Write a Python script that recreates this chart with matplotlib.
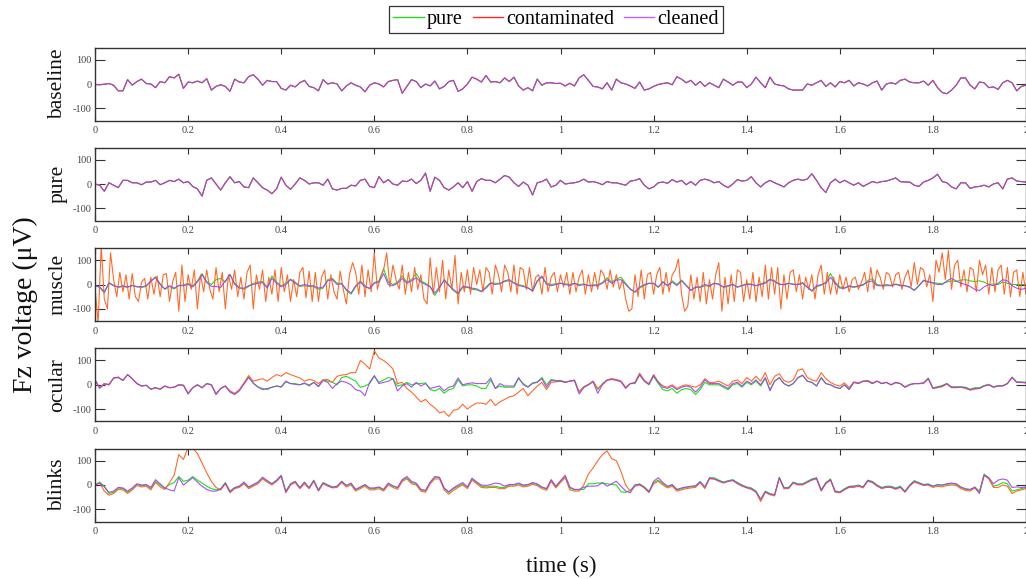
import numpy as np
import matplotlib
matplotlib.use('Agg')
import matplotlib.pyplot as plt
from matplotlib.lines import Line2D

plt.rcParams['font.family'] = ['Liberation Serif', 'DejaVu Serif']
plt.rcParams['axes.unicode_minus'] = False

panel_names = ['baseline', 'pure', 'muscle', 'ocular', 'blinks']
series_names = ['pure', 'contaminated', 'cleaned']
x_tick_values = [0, 0.2, 0.4, 0.6, 0.8, 1.0, 1.2, 1.4, 1.6, 1.8, 2.0]
x_tick_labels = ['0', '0.2', '0.4', '0.6', '0.8', '1', '1.2', '1.4', '1.6', '1.8', '2']
y_tick_values = [-100, 0, 100]
y_tick_labels = ['-100', '0', '100']

baseline_signal = [
    -2, -3, -1, 2, -5, -28, -28, 18, -5, 10,
    20, 2, 0, -15, 10, 5, 30, 25, 40, -18,
    8, 5, 12, 5, 22, -25, -10, -3, -10, -30,
    20, 8, 5, 30, 38, 20, -5, 15, 10, 10,
    -18, -25, -5, -12, 5, 15, -10, -15, -28, 18,
    0, 5, 0, -28, -8, 5, -5, -12, -32, -5,
    5, 0, -12, 10, 15, 18, -38, -10, 18, 10,
    -15, 0, -8, 12, -20, -10, 10, 15, -30, -20,
    0, 28, 20, 8, 35, 8, 10, 5, 25, 10,
    28, -8, -25, -15, -28, 20, -5, 5, 5, 2,
    3, -8, 3, -8, 25, 38, 15, -10, -12, -20,
    5, -25, 20, 5, 0, -8, -18, 8, -25, -20,
    -10, -2, 2, 5, -3, 30, 20, 5, 15, -5,
    10, -10, 5, -5, -15, 20, 8, -5, 8, 8,
    -15, 0, 28, 5, -15, 28, 0, -5, -8, -20,
    -25, -25, -25, 0, -5, 5, 15, -10, 5, -12,
    10, 5, 15, -8, 5, 0, -8, 5, 12, -25,
    0, 5, 0, 15, 20, 8, 5, 5, 12, -5,
    15, -15, -35, -40, -25, -5, 25, 25, -5, -20,
    8, 5, -15, -12, -22, 5, 15, 5, -28, -10,
    -5]

pure_signal = [
    0, -5, -30, 5, -5, -15, 15, 15, 5, 5,
    -3, 8, 8, 15, -3, 5, 15, 10, 20, 5,
    10, -10, -20, -50, 15, 25, 0, -25, 5, 30,
    5, 10, -12, -15, 25, 5, -15, -25, -40, -20,
    28, -5, -22, 0, 25, 15, 0, 5, 5, -5,
    20, -20, -25, -18, -18, -5, -8, 15, 20, -10,
    -15, 30, 5, 18, 0, -5, 12, 10, 20, 2,
    15, 45, -30, 28, 15, -15, -25, -12, 5, -15,
    10, -30, 10, 22, 15, 15, 5, 20, 35, 28,
    5, -10, 8, -5, -45, 5, 10, 20, -12, -5,
    15, 0, 3, 5, 10, 20, 8, 10, 5, -3,
    10, 5, 5, 0, -5, 12, 15, 22, -5, -20,
    -12, 5, 8, 3, 18, 8, 15, -3, 10, -5,
    15, 20, 15, 5, 10, -5, -15, 0, 18, 12,
    15, 30, 5, -12, 5, 15, 5, -3, -12, 5,
    15, 20, 15, 20, 42, 15, -15, -35, 5, 20,
    5, 15, 5, -5, 5, -10, 0, 10, 5, 10,
    12, 18, 25, 10, 8, 8, -5, -10, 8, 15,
    25, 40, 10, 5, -12, -20, 5, 5, -18, -12,
    -10, -5, -12, 0, 5, -20, 20, 25, 12, 10,
    8]

muscle_pure = [
    -5, -12, -35, 8, -3, -12, -8, -12, -3, -10,
    -12, -8, 12, 32, 3, -20, -8, -18, -3, -2,
    5, -5, 15, 45, 12, 0, 20, 25, 10, 42,
    5, -12, -20, -8, 5, 10, 12, -10, 35, 10,
    -5, 5, 22, 10, -8, -5, -8, -10, -20, -15,
    20, 25, 5, 5, -25, -40, -10, 15, -5, -18,
    8, 15, 65, 10, 0, 10, 35, 10, 20, 45,
    15, 5, -8, -45, -15, 20, 0, -25, -40, -12,
    -12, -20, -22, -30, -10, 8, 5, 5, 12, 15,
    8, 0, -5, -12, -28, 12, 30, 5, 0, 3,
    5, 3, 0, 5, 0, 2, -3, -2, 0, 8,
    28, 10, 22, 30, 5, -18, -32, -15, -5, 5,
    3, -12, 12, -5, 15, 0, 18, -2, -22, -12,
    -12, -5, -8, 5, 3, -12, -8, 2, -12, -3,
    3, 2, -5, 3, 10, 22, 15, 3, -2, 5,
    2, 0, 8, -12, -28, -10, -3, 10, 45, 10,
    -10, -15, -8, -12, -8, -3, 15, 25, 0, -3,
    0, -3, 2, -2, -5, -12, -22, -5, 15, 10,
    8, 5, 3, 10, 15, 12, 18, 20, 15, 12,
    15, 10, 0, 2, 0, 10, 5, 0, 0, 0,
    0]

muscle_contaminated = [
    -10, -160, 160, -60, -100, 130, 20, -50, 50, -30,
    40, -60, 45, -50, -70, 10, 25, -60, 30, -40,
    35, -50, 40, 45, -70, 10, 50, -110, 80, -70,
    40, -20, 60, -100, 40, -30, 60, -20, -60, 70,
    -30, 50, -100, 40, -20, 60, -50, 30, -60, 50,
    80, -100, 40, -20, 60, -70, 30, -40, 60, -70,
    70, -30, 40, -70, 20, -50, 50, 70, -55, 55,
    -70, 50, -70, 30, 60, -60, 40, -30, -60, 55,
    -20, -80, 40, 90, 50, -40, 80, -50, 60, -30,
    130, -20, 30, 60, 130, -10, 80, 20, -20, 80,
    -40, 50, -30, 70, -20, 40, -60, -80, 110, -40,
    70, -30, 100, -60, 60, -20, 120, -80, 50, -30,
    60, -40, 70, 0, 60, -30, 70, 50, -40, 80,
    40, -30, 80, 50, -30, 80, -40, 70, 60, -20,
    70, -30, 30, 40, -40, 70, -30, 30, 50, -30,
    40, -10, 50, -40, 50, -30, 30, 60, -40, 40,
    -30, 50, -20, 60, 40, -20, 60, -10, 40, -20,
    20, -60, -110, -100, 40, -50, 60, -60, 40, 50,
    -40, 40, 70, -40, 50, -30, 40, 60, 105, -40,
    -110, -90, 40, -60, 30, -70, 50, -80, 20, -60,
    40, 90, -110, 30, -80, 40, -70, 60, 50, -70,
    20, -60, 50, -70, 30, -50, 80, -60, 70, -40,
    70, -100, 40, -60, 50, 60, -30, 40, -60, 30,
    -20, 40, -60, 40, 80, -40, 50, -40, 30, -40,
    40, -20, 30, -30, 20, 30, -20, 10, 50, -30,
    70, -20, 60, 30, -20, 50, 40, -10, 40, 50,
    -20, 30, 60, -10, 90, 0, 70, 60, -10, 40,
    -70, 100, 50, 130, 20, 140, -20, 80, 100, -10,
    60, -30, 70, 60, -30, 100, 40, 80, -40, 70,
    -30, 60, 80, -40, 70, -50, 50, 60, -50, 50,
    -40]

muscle_cleaned = [
    -5, -10, -30, 5, -5, -10, -5, -10, -5, -8,
    -10, -5, 15, 28, 0, -18, -5, -15, -5, -5,
    0, -10, 10, 40, 8, -8, -8, -12, 15, 40,
    0, -15, -15, -5, 0, 5, 8, -15, 25, 5,
    -10, 0, 20, 5, -5, 0, -5, -5, -15, -10,
    15, 20, 0, 2, -20, -35, -5, 10, -10, -15,
    5, 10, 45, 0, -5, 5, 25, 5, 15, 28,
    10, 0, -10, -35, -10, 18, -5, -20, -35, -8,
    -10, -15, -18, -28, -15, 5, 0, 3, 15, 20,
    5, -5, -8, -15, -25, 15, 35, 0, -5, 0,
    5, 0, -5, 5, -5, 0, -5, -5, -5, 5,
    20, 5, 18, 20, 0, -20, -30, -10, 0, 5,
    5, -10, 10, -5, 10, -5, 15, -5, -25, -10,
    -10, 0, -5, 5, 0, -10, -5, 0, -10, -5,
    0, 0, -5, 0, 5, 20, 12, 0, 0, 5,
    0, 0, 5, -10, -25, -5, 0, 5, 30, 5,
    -15, -15, -5, -10, -5, 0, 10, 15, -5, -5,
    -5, -5, 0, -5, -5, -10, -25, -5, 18, 12,
    5, 0, 0, 15, 25, 15, 5, 0, -8, -20,
    -25, -10, 0, -5, 5, 20, 15, -5, -15, -20,
    -15]

ocular_pure = [
    20, -12, 5, 0, 28, 30, 18, 42, 25, 5,
    -5, -2, -18, -12, -18, -5, -12, -10, 0, -2,
    -35, -12, 0, -12, 5, 0, -38, -15, -5, -28,
    -38, -22, 5, 33, 5, -8, -15, -20, -10, -5,
    -10, 12, 5, 5, 0, 5, 0, 10, -5, 20,
    15, 10, 0, 30, 35, 25, 15, -10, -5, 5,
    35, 10, 20, 30, 25, -5, 0, 10, 0, 5,
    5, 8, -20, -25, -15, -35, -20, -15, 20, -5,
    0, 0, -5, -15, -15, 20, -15, -5, -10, -10,
    -10, 25, 5, -8, 8, 12, 30, 0, 22, 18,
    18, 12, 15, 20, -28, -8, 2, 15, -20, 5,
    20, 25, 20, 15, -12, 5, 5, 40, 15, 0,
    35, 5, -20, -25, -15, -35, -20, -15, -20, -40,
    -20, 10, 0, 0, 0, -10, -20, 0, 5, -10,
    10, 0, 15, -5, 25, -20, 15, 28, 5, -5,
    5, 28, 38, 15, 10, -5, 28, 5, 0, -10,
    -15, 0, -18, 10, 5, 15, 15, 5, 15, 5,
    10, 0, 10, 5, -8, 2, 5, 5, 8, 28,
    -12, -8, -3, 5, -8, -8, -8, -10, -18, -12,
    -12, -3, 2, -8, -3, -3, 5, 32, 12, 12,
    10]

ocular_contaminated = [
    20, -12, 5, 2, 28, 32, 18, 42, 25, 5,
    -5, -2, -18, -12, -18, -5, -12, -10, 0, -2,
    -35, -12, 0, -12, 5, 0, -38, -15, -5, -25,
    -35, -20, 8, 38, 15, 20, 25, 15, 30, 42,
    35, 50, 42, 35, 28, 15, 22, 18, 5, 20,
    22, 10, 35, 40, 42, 50, 50, 100, 85, 65,
    140, 110, 100, 85, 65, 5, 10, -15, -30, -50,
    -70, -60, -80, -95, -115, -110, -130, -105, -100, -80,
    -100, -85, -75, -75, -80, -60, -85, -70, -60, -50,
    -45, -30, -15, -45, -25, -5, 10, -20, 10, 12,
    15, 10, 15, 18, -30, -8, 0, 15, -15, 2,
    20, 25, 22, 15, -10, 5, 10, 48, 18, 5,
    42, 12, -5, -10, 0, -15, -5, 0, -5, -10,
    0, 25, 10, 10, 15, 5, -5, 15, 20, 5,
    30, 15, 35, 15, 50, 0, 35, 45, 18, 10,
    20, 60, 65, 30, 20, 15, 50, 25, 10, 0,
    -5, 8, -12, 12, 8, 15, 18, 8, 15, 5,
    10, 0, 8, 5, -10, 0, 5, 5, 5, 25,
    -15, -12, -8, 3, -12, -12, -10, -15, -22, -18,
    -15, -5, 0, -10, -5, -5, 5, 30, 10, 10,
    8]

ocular_cleaned = [
    20, -15, 3, 0, 28, 30, 18, 42, 25, 5,
    -5, -2, -18, -12, -18, -5, -12, -10, 0, -2,
    -38, -12, 0, -12, 5, 0, -40, -15, -5, -30,
    -40, -25, 3, 30, 8, -10, -20, -15, -10, -5,
    -8, 15, 5, 2, 0, 8, -5, 10, -8, 18,
    10, -15, 5, 15, 10, 0, -20, -25, -45, 10,
    38, 5, 10, 15, 25, -25, -5, 5, -10, 10,
    -5, 5, -15, -10, -5, -25, -10, -5, 28, 0,
    5, 8, 5, 5, 5, 28, -15, 5, -5, -5,
    -5, 30, 0, -10, 5, 10, 25, -10, 18, 15,
    15, 10, 15, 18, -38, -12, 0, 12, -35, 0,
    18, 22, 18, 12, -15, 5, 8, 42, 15, 2,
    38, 10, -10, -15, -5, -20, -10, -5, -10, -30,
    -10, 20, 5, 5, 5, -5, -15, 5, 10, -5,
    15, 5, 20, 0, 30, -25, 15, 30, 5, -5,
    5, 30, 40, 15, 10, -5, 30, 5, 0, -10,
    -15, 0, -20, 10, 5, 15, 15, 5, 15, 5,
    10, 0, 10, 5, -10, 0, 5, 5, 8, 25,
    -15, -10, -5, 5, -10, -10, -10, -12, -20, -15,
    -15, -5, 0, -10, -5, -5, 5, 30, 10, 10,
    8]

blinks_pure = [
    0, 12, -5, -35, -30, -12, -15, -30, -15, 2,
    -3, 0, -15, 15, 0, -15, 2, 10, 35, 15,
    20, 35, 20, 8, -5, -15, -20, -15, 10, -25,
    -10, -5, 10, -10, 0, 10, 30, 15, 5, 20,
    40, -25, 5, 15, -10, 10, -10, 20, -20, 10,
    0, -8, -5, 15, -2, 5, -20, -10, 0, -15,
    -15, -10, -20, 5, -5, -12, 20, 30, 10, 5,
    -20, -25, 10, 30, 30, -15, -30, -15, -5, 5,
    -10, 25, 10, -5, -8, -5, -5, -10, -10, 0,
    0, 5, -3, 0, 8, 2, -10, -15, 20, -8,
    15, 35, -12, -20, -20, -18, 5, 5, 8, 8,
    5, 2, 0, -28, -30, -22, 0, 5, -8, -25,
    10, 20, 5, -8, 0, -20, -15, -10, -8, -5,
    15, -10, 30, 30, 20, 12, 18, 22, 10, 0,
    -8, -12, -25, -60, -25, -35, -40, 32, -10, -10,
    12, 5, 5, 15, 25, 30, -20, 10, 25, -25,
    -28, -15, -5, -5, 0, -8, 20, 15, 0, -10,
    -5, -5, -12, -5, -25, 0, 18, 10, 2, 5,
    -5, 0, -2, 3, 5, 3, -10, -18, -20, -8,
    -25, 45, 30, -5, 0, 10, 5, -25, -20, -15,
    -10]

blinks_contaminated = [
    -2, 8, -25, -42, -35, -18, -20, -35, -20, -2,
    -8, -5, -20, 10, -8, -18, 10, 40, 125, 105,
    155, 150, 130, 90, 50, 15, -10, -20, 5, -32,
    -15, -10, 5, -15, -5, 5, 25, 12, 0, 15,
    35, -32, 0, 10, -15, 5, -15, 15, -25, 5,
    -5, -12, -10, 10, -8, 0, -25, -15, -5, -20,
    -20, -15, -25, 0, -10, -18, 15, 25, 5, 0,
    -25, -30, 5, 25, 25, -20, -38, -22, -10, 0,
    -15, 20, 5, -10, -12, -10, -10, -15, -15, -5,
    -5, 0, -8, -5, 3, -3, -15, -22, 15, -12,
    10, 30, -20, -25, -25, 0, 45, 70, 100, 125,
    140, 108, 100, 55, 0, -25, -5, 0, -12, -30,
    5, 15, 0, -12, -5, -25, -20, -15, -12, -10,
    10, -15, 25, 25, 15, 8, 15, 18, 5, -5,
    -12, -18, -30, -68, -30, -40, -45, 28, -15, -15,
    8, 0, 0, 10, 20, 25, -25, 5, 20, -30,
    -32, -20, -10, -10, -5, -12, 15, 10, -5, -15,
    -10, -10, -18, -10, -30, -5, 12, 5, -2, 0,
    -10, -5, -8, -2, 0, -2, -15, -22, -25, -12,
    -30, 40, 25, -10, -10, 0, -5, -35, -25, -20,
    -15]

blinks_cleaned = [
    0, 8, -8, -30, -25, -10, -12, -25, -12, 5,
    0, 2, -10, 22, 5, -12, -20, -25, 30, 0,
    15, 30, 12, -5, -18, -25, -25, -18, 8, -28,
    -12, -5, 12, -8, 2, 12, 32, 18, 5, 18,
    38, -28, 3, 15, -12, 12, -12, 18, -22, 8,
    0, -10, -5, 15, -2, 8, -18, -8, 2, -12,
    -12, -8, -18, 8, -3, -10, 22, 35, 15, 8,
    -18, -22, 12, 35, 32, -12, -28, -12, 0, 10,
    -8, 28, 12, 0, -2, 2, 8, 5, -5, 2,
    2, 8, 0, 2, 10, 5, -8, -15, 22, -5,
    18, 40, -8, -18, -18, -10, -5, -5, -3, 10,
    -5, 5, 15, -5, -25, -32, 0, 2, -10, -30,
    15, 30, 10, -5, 2, -18, -12, -8, -5, -3,
    12, -8, 28, 25, 18, 10, 15, 20, 8, -2,
    -10, -15, -28, -58, -28, -38, -40, 30, -12, -12,
    10, 3, 3, 12, 22, 28, -22, 8, 22, -25,
    -30, -18, -8, -5, -3, -8, 18, 12, -2, -12,
    -8, -8, -15, -8, -28, -2, 15, 8, 0, 2,
    -5, 2, 0, 5, 8, 5, -8, -15, -18, -10,
    -35, 40, 30, 5, 20, 25, 20, -10, -8, -10,
    -8]

panels = {
    'baseline': {'pure': baseline_signal, 'contaminated': baseline_signal, 'cleaned': baseline_signal},
    'pure': {'pure': pure_signal, 'contaminated': pure_signal, 'cleaned': pure_signal},
    'muscle': {'pure': muscle_pure, 'contaminated': muscle_contaminated, 'cleaned': muscle_cleaned},
    'ocular': {'pure': ocular_pure, 'contaminated': ocular_contaminated, 'cleaned': ocular_cleaned},
    'blinks': {'pure': blinks_pure, 'contaminated': blinks_contaminated, 'cleaned': blinks_cleaned},
}

# ---- styling
line_colors = {'pure': '#1fe01f', 'contaminated': '#ff6a2a', 'cleaned': '#a23cf0'}
line_alpha = {'pure': 1.0, 'contaminated': 1.0, 'cleaned': 0.9}
legend_colors = {'pure': '#22dd22', 'contaminated': '#ff2a2a', 'cleaned': '#c060ff'}

W, H = 1026, 579
fig = plt.figure(figsize=(W / 100, H / 100), dpi=100)
panel_tops = [47.5, 147.5, 248, 348.3, 448.5]
panel_h = 73
ax_left, ax_w = 95, 931

for name, top in zip(panel_names, panel_tops):
    ax = fig.add_axes([ax_left / W, 1 - (top + panel_h) / H, ax_w / W, panel_h / H])
    for s in series_names:
        y = np.asarray(panels[name][s], dtype=float)
        t = np.linspace(0, 2, len(y))
        ax.plot(t, y, color=line_colors[s], lw=0.8, alpha=line_alpha[s], solid_joinstyle='round')
    ax.set_xlim(0, 2)
    ax.set_ylim(-150, 150)
    ax.set_xticks(x_tick_values)
    ax.set_xticklabels(x_tick_labels)
    ax.set_yticks(y_tick_values)
    ax.set_yticklabels(y_tick_labels)
    ax.tick_params(axis='both', direction='in', top=True, right=True, width=0.8,
                   color='#333333', labelcolor='#444444', labelsize=7.5)
    ax.tick_params(axis='x', length=4.5, pad=4)
    ax.tick_params(axis='y', length=7, pad=2.5)
    for sp in ax.spines.values():
        sp.set_color('#333333')
        sp.set_linewidth(1.0)
    fig.text(58 / W, 1 - (top + panel_h / 2) / H, name, rotation=90,
             ha='center', va='center', fontsize=15.5, color='#111111')

fig.text(25 / W, 1 - 305 / H, 'Fz voltage (μV)', rotation=90, ha='center', va='center',
         fontsize=20, color='#111111')
fig.text(561 / W, 1 - 566 / H, 'time (s)', ha='center', va='center', fontsize=16.5, color='#111111')

handles = [Line2D([0], [0], color=legend_colors[s], lw=1.0) for s in series_names]
leg = fig.legend(handles, series_names, loc='center', bbox_to_anchor=(556 / W, 1 - 19.5 / H),
                 ncol=3, fontsize=14.5, frameon=True, fancybox=False, edgecolor='#333333',
                 framealpha=1, handlelength=1.5, handletextpad=0.15, columnspacing=0.5,
                 borderpad=0.2, borderaxespad=0)
leg.get_frame().set_linewidth(0.9)

fig.savefig('out.png', dpi=100)
